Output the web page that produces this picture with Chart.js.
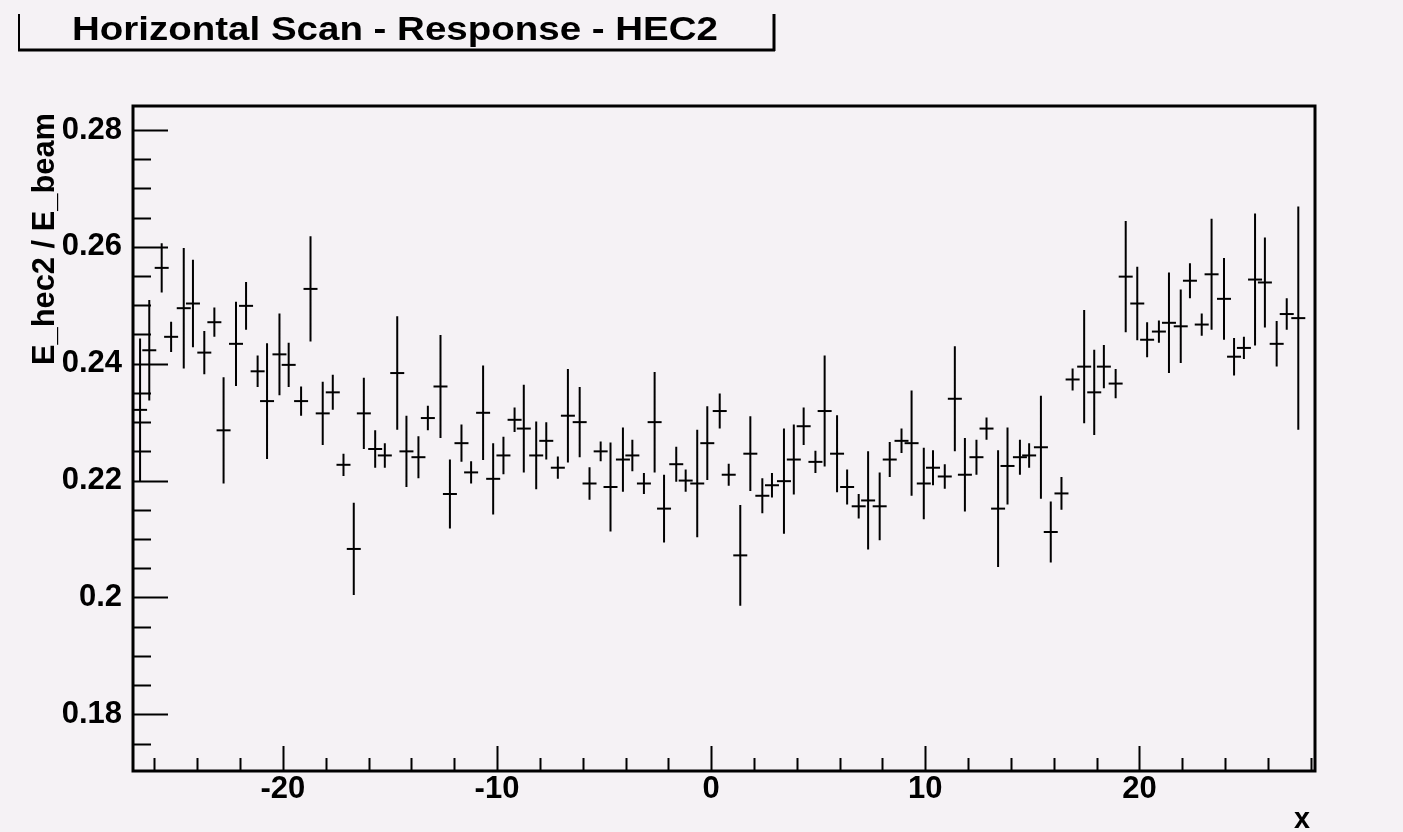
<!DOCTYPE html>
<html>
<head>
<meta charset="utf-8">
<title>Horizontal Scan - Response - HEC2</title>
<script src="https://cdn.jsdelivr.net/npm/chart.js@4.4.1/dist/chart.umd.min.js"></script>
<style>
    html, body { margin: 0; padding: 0; background: #f5f2f5; }
    #chart-area { display: block; }
</style>
</head>
<body>
<canvas id="chart-area" width="1403" height="832"></canvas>
<script>
//values (beam position x, response, error)
var xPos = [
    -26.67, -26.24, -25.66, -25.22, -24.63, -24.20, -23.67, -23.20, -22.77, -22.19,
    -21.72, -21.18, -20.74, -20.16, -19.73, -19.15, -18.71, -18.14, -17.67, -17.17,
    -16.69, -16.22, -15.69, -15.24, -14.66, -14.23, -13.67, -13.23, -12.64, -12.20,
    -11.66, -11.21, -10.65, -10.18, -9.70, -9.18, -8.75, -8.17, -7.70, -7.16,
    -6.69, -6.14, -5.68, -5.16, -4.70, -4.12, -3.68, -3.14, -2.64, -2.20,
    -1.63, -1.19, -0.65, -0.18, 0.40, 0.82, 1.36, 1.83, 2.39, 2.84,
    3.40, 3.86, 4.32, 4.87, 5.30, 5.88, 6.35, 6.89, 7.33, 7.87,
    8.34, 8.89, 9.36, 9.93, 10.36, 10.91, 11.38, 11.85, 12.39, 12.86,
    13.40, 13.84, 14.42, 14.85, 15.40, 15.86, 16.36, 16.88, 17.42, 17.89,
    18.34, 18.89, 19.36, 19.90, 20.36, 20.91, 21.38, 21.93, 22.36, 22.91,
    23.37, 23.95, 24.42, 24.88, 25.40, 25.86, 26.41, 26.88, 27.42
];
var yVal = [
    0.2321, 0.2423, 0.2564, 0.2446, 0.2495, 0.2503, 0.2419, 0.2471, 0.2286, 0.2434,
    0.2499, 0.2387, 0.2336, 0.2416, 0.2398, 0.2336, 0.2528, 0.2315, 0.2351, 0.2227,
    0.2083, 0.2315, 0.2254, 0.2243, 0.2384, 0.2250, 0.2240, 0.2307, 0.2361, 0.2177,
    0.2264, 0.2214, 0.2316, 0.2203, 0.2243, 0.2304, 0.2289, 0.2243, 0.2268, 0.2222,
    0.2311, 0.2300, 0.2195, 0.2250, 0.2189, 0.2236, 0.2243, 0.2195, 0.2300, 0.2152,
    0.2228, 0.2200, 0.2195, 0.2264, 0.2319, 0.2210, 0.2072, 0.2246, 0.2174, 0.2192,
    0.2199, 0.2236, 0.2293, 0.2232, 0.2319, 0.2246, 0.2189, 0.2156, 0.2166, 0.2156,
    0.2236, 0.2268, 0.2264, 0.2195, 0.2222, 0.2207, 0.2340, 0.2210, 0.2240, 0.2289,
    0.2152, 0.2225, 0.2240, 0.2243, 0.2257, 0.2112, 0.2178, 0.2373, 0.2395, 0.2351,
    0.2395, 0.2366, 0.2549, 0.2503, 0.2441, 0.2455, 0.2470, 0.2464, 0.2542, 0.2467,
    0.2553, 0.2511, 0.2412, 0.2427, 0.2544, 0.2539, 0.2434, 0.2485, 0.2478
];
var yErr = [
    0.0122, 0.0086, 0.0042, 0.0026, 0.0103, 0.0075, 0.0037, 0.0025, 0.0091, 0.0072,
    0.0041, 0.0027, 0.0099, 0.0070, 0.0038, 0.0025, 0.0090, 0.0054, 0.0030, 0.0019,
    0.0079, 0.0061, 0.0032, 0.0021, 0.0097, 0.0061, 0.0036, 0.0021, 0.0088, 0.0059,
    0.0032, 0.0019, 0.0081, 0.0061, 0.0032, 0.0021, 0.0075, 0.0058, 0.0032, 0.0019,
    0.0080, 0.0060, 0.0028, 0.0017, 0.0076, 0.0055, 0.0027, 0.0018, 0.0086, 0.0058,
    0.0030, 0.0019, 0.0092, 0.0063, 0.0030, 0.0019, 0.0086, 0.0064, 0.0030, 0.0021,
    0.0090, 0.0060, 0.0032, 0.0019, 0.0095, 0.0066, 0.0030, 0.0021, 0.0084, 0.0058,
    0.0030, 0.0021, 0.0090, 0.0061, 0.0030, 0.0021, 0.0090, 0.0063, 0.0030, 0.0019,
    0.0100, 0.0066, 0.0030, 0.0021, 0.0088, 0.0052, 0.0028, 0.0019, 0.0097, 0.0073,
    0.0037, 0.0025, 0.0095, 0.0063, 0.0030, 0.0019, 0.0086, 0.0063, 0.0030, 0.0019,
    0.0095, 0.0070, 0.0032, 0.0019, 0.0113, 0.0077, 0.0039, 0.0027, 0.0191
];
var xTickValues = [-20, -10, 0, 10, 20];
var yTickValues = [0.18, 0.2, 0.22, 0.24, 0.26, 0.28];
var titleText = 'Horizontal Scan - Response - HEC2';
var xTitle = 'x';
var yTitle = 'E_hec2 / E_beam';

var fontFamily = "'Liberation Sans', Arial, sans-serif";
var chart;

//draw bold text stretched to a given width (ROOT fonts are wider than ours)
function drawFitted(ctx, text, x, y, width, size, rotate) {
    ctx.save();
    ctx.font = 'bold ' + size + 'px ' + fontFamily;
    var w = ctx.measureText(text).width;
    ctx.translate(x, y);
    if (rotate) {
        ctx.rotate(-Math.PI / 2);
    }
    ctx.scale(width / w, 1);
    ctx.textAlign = 'center';
    ctx.textBaseline = 'middle';
    ctx.fillStyle = '#000';
    ctx.fillText(text, 0, 0);
    ctx.restore();
}

//vertical error bars, the crossbar is the point itself
var errorBars = {
    id: 'errorBars',
    afterDatasetsDraw: function (c) {
        var ctx = c.ctx, xs = c.scales.x, ys = c.scales.y, a = c.chartArea;
        ctx.save();
        ctx.beginPath();
        ctx.rect(a.left, a.top, a.right - a.left, a.bottom - a.top);
        ctx.clip();
        ctx.strokeStyle = '#000';
        ctx.lineWidth = 2;
        ctx.beginPath();
        for (var i = 0; i < xPos.length; i++) {
            var px = xs.getPixelForValue(xPos[i]);
            ctx.moveTo(px, ys.getPixelForValue(yVal[i] + yErr[i]));
            ctx.lineTo(px, ys.getPixelForValue(yVal[i] - yErr[i]));
        }
        ctx.stroke();
        ctx.restore();
    }
};

//frame + ROOT style ticks pointing inside the pad
var rootFrame = {
    id: 'rootFrame',
    afterDraw: function (c) {
        var ctx = c.ctx, xs = c.scales.x, ys = c.scales.y, a = c.chartArea;
        var v, p, i;
        ctx.save();
        ctx.strokeStyle = '#000';
        ctx.lineWidth = 2;
        ctx.beginPath();
        //y ticks, minor every 0.005
        for (i = 35; i <= 56; i++) {
            v = i * 0.005;
            if (v < ys.min || v > ys.max) continue;
            p = Math.round(ys.getPixelForValue(v)) + 0.5;
            var major = (i % 4 === 0);
            ctx.moveTo(a.left, p);
            ctx.lineTo(a.left + (major ? 35 : 18), p);
        }
        //x ticks, minor every 2
        for (i = -26; i <= 28; i += 2) {
            if (i < xs.min || i > xs.max) continue;
            p = Math.round(xs.getPixelForValue(i)) + 0.5;
            ctx.moveTo(p, a.bottom);
            ctx.lineTo(p, a.bottom - (i % 10 === 0 ? 25 : 13));
        }
        ctx.stroke();
        ctx.lineWidth = 3;
        ctx.strokeRect(a.left, a.top, a.right - a.left, a.bottom - a.top);
        ctx.restore();

        //axis titles
        drawFitted(ctx, yTitle, 45, 239, 252, 31, true);
        drawFitted(ctx, xTitle, 1302, 820, 16, 30, false);

        //title box with shadow on right and bottom
        ctx.save();
        ctx.strokeStyle = '#000';
        ctx.lineWidth = 2;
        ctx.beginPath();
        ctx.moveTo(19, 14);
        ctx.lineTo(19, 50);
        ctx.stroke();
        ctx.lineWidth = 3;
        ctx.beginPath();
        ctx.moveTo(18, 50);
        ctx.lineTo(775, 50);
        ctx.moveTo(774, 14);
        ctx.lineTo(774, 51);
        ctx.stroke();
        ctx.restore();
        drawFitted(ctx, titleText, 395, 31, 646, 34, false);
    }
};

chart = new Chart(document.getElementById('chart-area').getContext('2d'), {
    type: 'scatter',
    plugins: [errorBars, rootFrame],
    data: {
        datasets: [{
            data: xPos.map(function (x, i) { return { x: x, y: yVal[i] }; }),
            pointStyle: 'line',
            pointRadius: 7,
            borderWidth: 2,
            borderColor: '#000',
            backgroundColor: '#000'
        }]
    },
    options: {
        responsive: false,
        animation: false,
        events: [],
        layout: {
            padding: { top: 106, right: 88, left: 0, bottom: 0 }
        },
        plugins: {
            legend: { display: false },
            tooltip: { enabled: false }
        },
        scales: {
            x: {
                type: 'linear',
                min: -27,
                max: 28.2,
                grid: { display: false, drawTicks: false },
                border: { display: false },
                ticks: {
                    padding: 0,
                    color: '#000',
                    font: { family: fontFamily, size: 31, weight: 'bold' }
                },
                afterBuildTicks: function (scale) {
                    scale.ticks = xTickValues.map(function (v) { return { value: v }; });
                },
                afterFit: function (scale) { scale.height = 61; }
            },
            y: {
                type: 'linear',
                min: 0.1703,
                max: 0.2841,
                grid: { display: false, drawTicks: false },
                border: { display: false },
                ticks: {
                    padding: 11,
                    color: '#000',
                    font: { family: fontFamily, size: 31, weight: 'bold' },
                    callback: function (v) { return String(+v.toFixed(2)); }
                },
                afterBuildTicks: function (scale) {
                    scale.ticks = yTickValues.map(function (v) { return { value: v }; });
                },
                afterFit: function (scale) { scale.width = 133; }
            }
        }
    }
});
</script>
</body>
</html>
